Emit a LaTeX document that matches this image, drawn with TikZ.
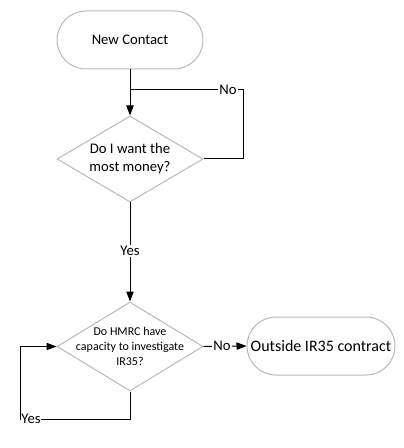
\documentclass[tikz,border=0pt]{standalone}
\usepackage{fontspec}
\setmainfont{Carlito}
\usetikzlibrary{shapes.geometric,shapes.misc,arrows.meta}
\begin{document}
\begin{tikzpicture}[x=0.75pt,y=-0.75pt,
  shapeline/.style={draw=black!28, line width=0.75pt},
  term/.style={shapeline, rounded rectangle, minimum width=146*0.75pt, minimum height=58*0.75pt, inner sep=0pt, font=\fontsize{11}{13}\selectfont},
  decision/.style={shapeline, diamond, minimum width=146*0.75pt, minimum height=86*0.75pt, inner sep=0pt},
  dtext/.style={align=center, inner sep=0pt},
  conn/.style={draw=black, line width=0.75pt},
  arr/.style={conn, -{Triangle[length=7.5pt,width=5.5pt]}},
  lbl/.style={fill=white, inner sep=1pt, font=\fontsize{11}{13}\selectfont}
]
\useasboundingbox (0,0) rectangle (403,448);
\node[term] (start) at (130,40) {New Contact};
\node[decision, label={[dtext, font=\fontsize{11}{13.5}\selectfont]center:Do I want the\\most money?}] (d1) at (130,159) {};
\node[decision, minimum height=89*0.75pt, label={[dtext, font=\fontsize{9}{11.5}\selectfont]center:Do HMRC have\\capacity to investigate\\IR35?}] (d2) at (130,346.5) {};
\node[term, minimum width=148*0.75pt, font=\fontsize{12}{14}\selectfont] (out) at (321,346) {Outside IR35 contract};
\coordinate (j1) at (130,90);
\coordinate (c1) at (243,159);
\coordinate (c2) at (243,90);
\coordinate (c3) at (130,419);
\coordinate (c4) at (20,419);
\coordinate (c5) at (20,346.5);
\draw[arr] (start.south) -- (d1.north);
\draw[conn] (d1.east) -- (c1) -- (c2) -- (j1);
\node[lbl] (no1) at (228,90) {No};
\draw[arr] (d1.south) -- (d2.north);
\node[lbl] (yes1) at (130,251) {Yes};
\draw[arr] (d2.east) -- (out.west);
\node[lbl] (no2) at (222,346) {No};
\draw[conn] (d2.south) -- (c3) -- (c4) -- (c5);
\draw[arr] (c5) -- (d2.west);
\node[lbl, anchor=west, inner sep=0.5pt] (yes2) at (20.5,419) {Yes};
\end{tikzpicture}
\end{document}
